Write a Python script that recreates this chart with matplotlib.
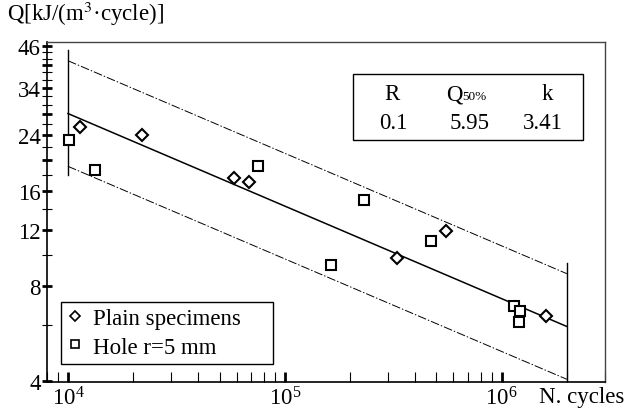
import numpy as np
import matplotlib
matplotlib.use('Agg')
import matplotlib.pyplot as plt
from matplotlib.ticker import FixedLocator, FuncFormatter, LogLocator, LogFormatterMathtext
from matplotlib.patches import Rectangle

plt.rcParams['font.family'] = ['Liberation Serif', 'DejaVu Serif']
plt.rcParams['mathtext.fontset'] = 'stix'

# éprouvettes lisses
N_plain = [11400, 22000, 58300, 68400, 329000, 556000, 1.6e6]
Q_plain = [25.5, 24.0, 17.6, 17.1, 9.8, 11.9, 6.4]
# éprouvettes trouées r=5 mm
N_hole = [10100, 13350, 75300, 164000, 231000, 473000, 1.14e6, 1.22e6, 1.2e6]
Q_hole = [23.2, 18.6, 19.2, 9.3, 15.0, 11.1, 6.9, 6.66, 6.15]

# courbe de Wöhler en énergie
R = 0.1
Q50 = 5.95
k = 3.41
N_ref = 2e6
T = 1.47          # facteur de la bande de dispersion
N_lim = [1e4, 2e6]

y_major = [4, 8, 12, 16, 20, 24, 28, 34, 40, 46]
y_labels = [4, 8, 12, 16, 24, 34, 46]
y_minor = [v for v in range(4, 47, 2) if v not in y_major]

fs = 16.5


def courbe(N, f=1.0):
    N = np.asarray(N, dtype=float)
    return f * Q50 * (N / N_ref) ** (-1 / k)


fig = plt.figure(figsize=(6.26, 4.14), dpi=100)
ax = fig.add_axes([0.075, 0.075, 0.8915, 0.821])

lx = np.array(N_lim)
ax.plot(lx, courbe(lx), color='k', lw=1.1)
ax.plot(lx, courbe(lx, T), color='k', lw=0.7, dashes=(9, 2, 1.5, 2))
ax.plot(lx, courbe(lx, 1 / T), color='k', lw=0.7, dashes=(9, 2, 1.5, 2))
for n in N_lim:
    ax.plot([n, n], [courbe(n, 0.94 / T), courbe(n, 1.08 * T)], color='k', lw=1.0)

ax.plot(N_plain, Q_plain, ls='none', marker='D', ms=6.3, mfc='white', mec='k', mew=1.5,
        label='Plain specimens')
ax.plot(N_hole, Q_hole, ls='none', marker='s', ms=7.2, mfc='white', mec='k', mew=1.5,
        label='Hole r=5 mm')

ax.set_xscale('log')
ax.set_yscale('log')
ax.set_xlim(8e3, 3e6)
ax.set_ylim(3.97, 47.4)

ax.xaxis.set_major_locator(LogLocator(base=10, numticks=10))
ax.xaxis.set_major_formatter(LogFormatterMathtext())
ax.xaxis.set_minor_locator(LogLocator(base=10, subs=np.arange(2, 10), numticks=20))
ax.xaxis.set_minor_formatter(FuncFormatter(lambda v, p: ''))

ax.yaxis.set_major_locator(FixedLocator(y_major))
ax.yaxis.set_major_formatter(FuncFormatter(lambda v, p: f'{v:g}' if round(v) in y_labels else ''))
ax.yaxis.set_minor_locator(FixedLocator(y_minor))
ax.yaxis.set_minor_formatter(FuncFormatter(lambda v, p: ''))

ax.tick_params(axis='x', which='major', direction='in', length=7, width=2, labelsize=fs, pad=3)
ax.tick_params(axis='x', which='minor', direction='in', length=7, width=0.8)
ax.tick_params(axis='y', which='major', direction='inout', length=7, width=2, labelsize=fs, pad=1)
ax.tick_params(axis='y', which='minor', direction='inout', length=7, width=0.8)

for s in ['left', 'bottom']:
    ax.spines[s].set_linewidth(1.2)
for s in ['top', 'right']:
    ax.spines[s].set_linewidth(1.0)
    ax.spines[s].set_color('#444444')

# tableau des paramètres
ax.add_patch(Rectangle((0.548, 0.712), 0.413, 0.194, transform=ax.transAxes,
                       fill=False, ec='k', lw=1.0))
ax.text(0.618, 0.832, 'R', transform=ax.transAxes, ha='center', va='baseline', fontsize=fs)
ax.text(0.745, 0.832, 'Q', transform=ax.transAxes, ha='right', va='baseline', fontsize=fs)
ax.text(0.745, 0.832, '50%', transform=ax.transAxes, ha='left', va='baseline', fontsize=9.5)
ax.text(0.896, 0.832, 'k', transform=ax.transAxes, ha='center', va='baseline', fontsize=fs)
ax.text(0.620, 0.747, f'{R}', transform=ax.transAxes, ha='center', va='baseline', fontsize=fs)
ax.text(0.758, 0.747, f'{Q50}', transform=ax.transAxes, ha='center', va='baseline', fontsize=fs)
ax.text(0.889, 0.747, f'{k}', transform=ax.transAxes, ha='center', va='baseline', fontsize=fs)

leg = ax.legend(loc='lower left', bbox_to_anchor=(0.025, 0.053, 0.38, 0.18), mode='expand',
                borderaxespad=0, fontsize=fs, fancybox=False, framealpha=1, edgecolor='k',
                handlelength=0.7, handletextpad=0.4, borderpad=0.28, labelspacing=0.32)
leg.get_frame().set_linewidth(1.0)
for h in leg.legend_handles:
    h.set_markersize(h.get_markersize() * 0.8)
    h.set_markeredgewidth(1.2)

fig.text(7 / 626, 1 - 14 / 414, 'Q[kJ/(m$^3$·cycle)]', ha='left', va='center', fontsize=fs)
fig.text(1 - 2 / 626, 1 - 398 / 414, 'N. cycles', ha='right', va='center', fontsize=fs)

fig.savefig('out.png', dpi=100)
